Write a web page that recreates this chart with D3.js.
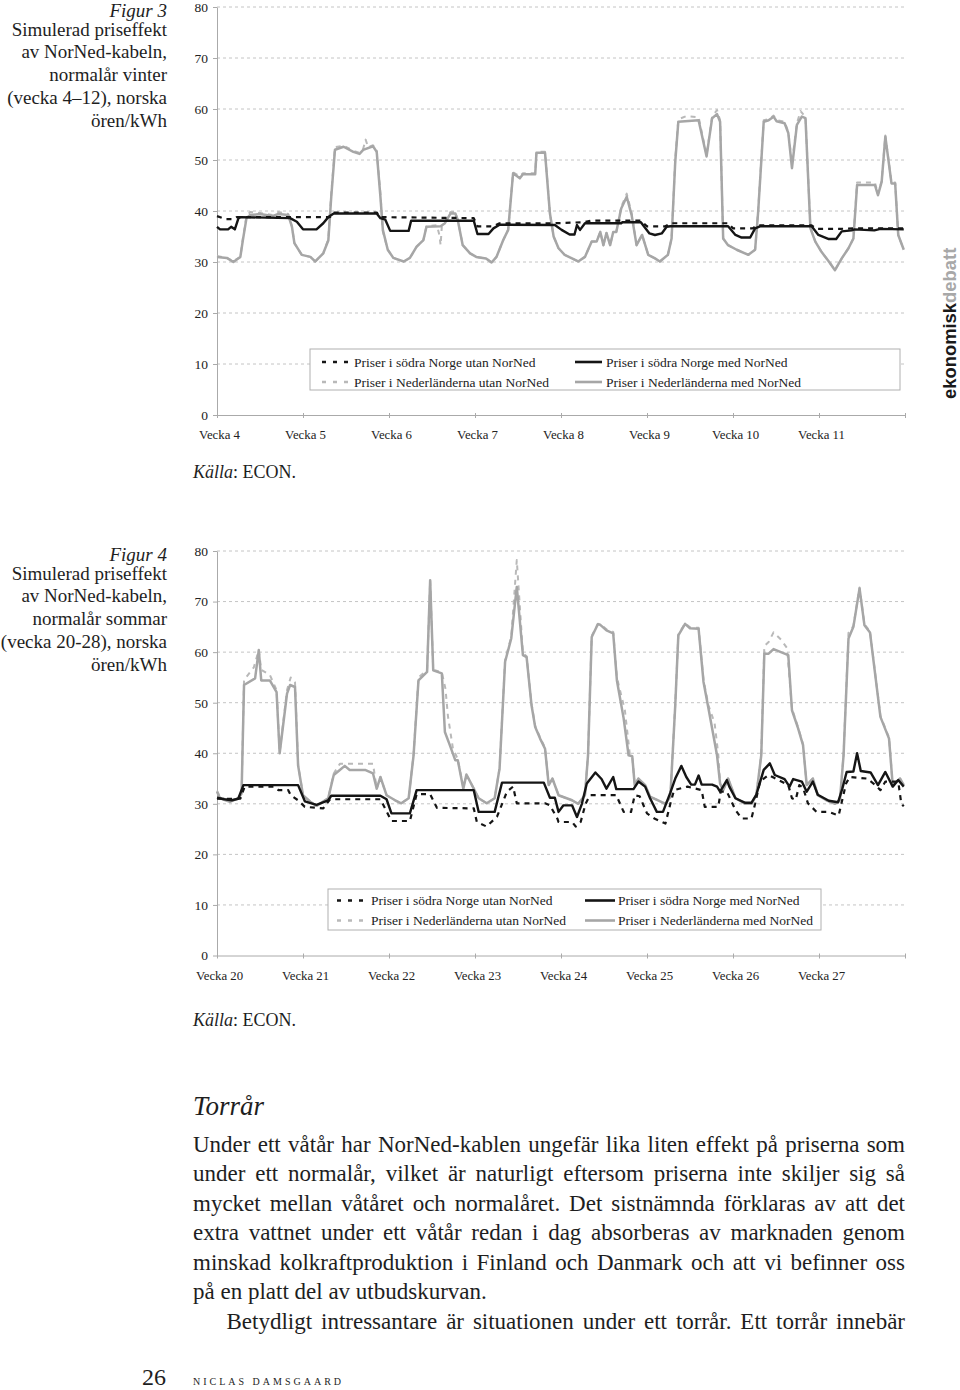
<!DOCTYPE html>
<html><head><meta charset="utf-8">
<script src="https://cdn.jsdelivr.net/npm/d3@7"></script>
<style>
html,body{margin:0;padding:0;background:#fff;}
svg{display:block;}
</style></head>
<body>
<svg id="page" width="960" height="1390"></svg>
<script>
// ---------------- DATA ----------------
const yTicks = [0,10,20,30,40,50,60,70,80];
const weekTicks = [0,7,14,21,28,35,42,49,56];
const weekLabels1 = ["Vecka 4","Vecka 5","Vecka 6","Vecka 7","Vecka 8","Vecka 9","Vecka 10","Vecka 11"];
const weekLabels2 = ["Vecka 20","Vecka 21","Vecka 22","Vecka 23","Vecka 24","Vecka 25","Vecka 26","Vecka 27"];
const legendLabels = ["Priser i södra Norge utan NorNed","Priser i södra Norge med NorNed","Priser i Nederländerna utan NorNed","Priser i Nederländerna med NorNed"];
const caption1 = ["Figur 3","Simulerad priseffekt","av NorNed-kabeln,","normalår vinter","(vecka 4–12), norska","ören/kWh"];
const caption2 = ["Figur 4","Simulerad priseffekt","av NorNed-kabeln,","normalår sommar","(vecka 20-28), norska","ören/kWh"];
const sourceText = ["Källa",": ECON."];
const headingText = "Torrår";
const bodyLines = [
 "Under ett våtår har NorNed-kablen ungefär lika liten effekt på priserna som",
 "under ett normalår, vilket är naturligt eftersom priserna inte skiljer sig så",
 "mycket mellan våtåret och normalåret. Det sistnämnda förklaras av att det",
 "extra vattnet under ett våtår redan i dag absorberas av marknaden genom",
 "minskad kolkraftproduktion i Finland och Danmark och att vi befinner oss",
 "på en platt del av utbudskurvan.",
 "Betydligt intressantare är situationen under ett torrår. Ett torrår innebär"
];
const pageNumber = "26";
const authorName = "NICLAS DAMSGAARD";
const logoParts = ["ekonomisk","debatt"];

// Figur 3 (winter) series: [day from start of Vecka 4, öre/kWh]
const winterNoWithout = [[0,39.0],[0.7,38.4],[1.3,38.4],[1.6,38.8],[9.2,38.8],[9.5,39.7],[13.0,39.7],[13.3,38.8],[20.9,38.6],[21.2,37.0],[22.5,37.0],[23.0,37.6],[27.5,37.6],[29.9,37.8],[30.4,38.1],[34.5,38.1],[35.0,37.0],[36.5,37.0],[36.9,37.6],[41.6,37.6],[42.0,36.6],[43.6,36.6],[44.0,37.2],[48.4,37.2],[48.8,36.5],[50.8,36.5],[51.8,36.6],[55.9,36.6]];
const winterNoWith = [[0,36.9],[0.25,36.4],[0.9,36.4],[1.15,36.9],[1.45,36.4],[1.75,38.6],[1.9,38.8],[5.95,38.6],[6.5,37.9],[7.0,36.4],[8.1,36.4],[8.65,37.6],[9.06,38.8],[9.5,39.5],[13.0,39.5],[13.3,38.6],[13.7,38.3],[14.1,36.1],[15.6,36.1],[15.8,38.1],[20.9,38.1],[21.2,35.5],[22.1,35.5],[22.5,36.6],[23.0,37.3],[27.5,37.25],[28.05,36.3],[28.7,35.4],[29.1,35.4],[29.3,37.25],[29.55,36.3],[29.95,37.6],[32.9,37.6],[33.0,37.8],[34.5,37.8],[35.2,35.6],[35.65,35.3],[36.2,35.6],[36.6,36.9],[36.9,37.0],[41.6,37.0],[42.2,35.3],[42.7,34.8],[43.4,34.8],[43.8,36.6],[44.2,37.0],[48.4,37.0],[48.95,35.3],[49.8,34.5],[50.4,34.5],[50.85,36.0],[51.65,36.2],[51.9,36.4],[53.5,36.2],[54.0,36.5],[55.9,36.4]];
const winterNlWithout = [[0,31.2],[0.8,30.8],[1.33,30.2],[1.9,31.0],[2.1,34.5],[2.4,39.0],[2.7,39.8],[3.5,39.6],[4.5,39.2],[5.0,39.8],[5.8,39.4],[6.1,37.0],[6.3,33.7],[6.9,31.4],[7.6,31.0],[8.0,30.1],[8.65,31.7],[9.06,34.5],[9.3,43.5],[9.6,52.5],[10.3,52.8],[11.1,51.8],[11.6,51.4],[11.9,52.2],[12.1,54.0],[12.3,52.5],[12.7,52.9],[13.0,51.8],[13.3,43.5],[13.5,36.0],[13.9,32.4],[14.35,30.8],[15.2,30.1],[15.7,30.8],[16.25,33.0],[16.8,34.3],[17.05,37.0],[17.9,37.2],[18.1,35.3],[18.2,33.3],[18.3,37.0],[18.55,37.8],[19.0,39.8],[19.4,39.8],[19.6,38.2],[20.0,33.3],[20.6,31.7],[21.1,31.0],[21.9,30.7],[22.35,29.9],[22.75,31.0],[23.3,34.3],[23.7,36.3],[24.1,47.6],[24.65,46.8],[24.9,47.4],[25.9,47.4],[26.0,51.6],[26.7,51.6],[27.1,39.5],[27.4,35.0],[27.8,32.7],[28.3,31.4],[29.4,30.1],[29.95,31.0],[30.5,34.0],[30.9,34.0],[31.2,35.9],[31.45,33.3],[31.7,35.7],[32.0,33.3],[32.25,35.9],[32.5,35.9],[32.9,40.8],[33.35,43.4],[33.75,39.6],[34.15,33.3],[34.6,35.3],[35.1,31.4],[35.65,30.7],[36.05,30.1],[36.7,31.4],[37.0,34.6],[37.3,50.2],[37.55,58.0],[38.2,58.6],[39.2,58.4],[39.85,51.0],[40.3,58.5],[40.7,59.8],[40.95,57.8],[41.2,34.6],[41.6,33.3],[42.3,32.4],[43.25,31.4],[43.8,32.4],[44.05,40.2],[44.5,57.8],[44.9,58.0],[45.3,58.7],[45.55,57.8],[46.2,57.5],[46.5,55.5],[46.8,49.5],[47.2,57.2],[47.5,59.6],[47.9,58.4],[48.3,36.8],[48.7,34.0],[49.2,32.0],[49.8,30.1],[50.3,28.4],[50.85,30.7],[51.4,32.7],[51.8,34.6],[52.1,45.6],[53.55,45.6],[53.8,43.3],[54.1,45.9],[54.4,54.8],[54.9,45.6],[55.2,45.6],[55.45,35.3],[55.9,32.4]];
const winterNlWith = [[0,31.0],[0.8,30.8],[1.33,30.0],[1.9,31.0],[2.1,34.2],[2.4,38.6],[2.7,39.2],[3.5,39.4],[4.5,39.0],[5.0,39.4],[5.8,39.2],[6.1,36.9],[6.3,33.7],[6.9,31.4],[7.6,31.0],[8.0,30.1],[8.65,31.7],[9.06,34.2],[9.3,42.8],[9.6,52.0],[10.3,52.6],[11.1,51.6],[11.6,51.2],[11.9,52.0],[12.7,52.7],[13.0,51.6],[13.3,42.8],[13.5,36.3],[13.9,32.4],[14.35,30.8],[15.2,30.1],[15.7,30.8],[16.25,33.0],[16.8,34.3],[17.05,36.9],[18.2,37.0],[18.55,37.6],[19.0,39.5],[19.4,39.5],[19.6,38.2],[20.0,33.3],[20.6,31.7],[21.1,31.0],[21.9,30.7],[22.35,29.9],[22.75,31.0],[23.3,34.3],[23.7,36.3],[24.1,47.4],[24.65,46.4],[24.9,47.2],[25.9,47.2],[26.0,51.4],[26.7,51.4],[27.1,39.5],[27.4,35.0],[27.8,32.7],[28.3,31.4],[29.4,30.1],[29.95,31.0],[30.5,34.0],[30.9,34.0],[31.2,35.9],[31.45,33.3],[31.7,35.7],[32.0,33.3],[32.25,35.9],[32.5,35.9],[32.9,40.5],[33.35,42.8],[33.75,39.2],[34.15,33.3],[34.6,35.3],[35.1,31.4],[35.65,30.7],[36.05,30.1],[36.7,31.4],[37.0,34.6],[37.3,49.7],[37.55,57.5],[39.2,57.8],[39.85,50.7],[40.3,58.2],[40.7,59.0],[40.95,57.5],[41.2,34.6],[41.6,33.3],[42.3,32.4],[43.25,31.4],[43.8,32.4],[44.05,39.9],[44.5,57.5],[44.9,57.8],[45.3,58.5],[45.55,57.6],[46.2,57.2],[46.5,55.3],[46.8,48.4],[47.2,56.9],[47.6,58.5],[47.9,58.2],[48.3,36.6],[48.7,34.0],[49.2,32.0],[49.8,30.1],[50.3,28.4],[50.85,30.7],[51.4,32.7],[51.8,34.6],[52.1,45.1],[53.55,45.1],[53.8,43.1],[54.1,45.7],[54.4,54.6],[54.9,45.4],[55.2,45.4],[55.45,35.3],[55.9,32.4]];

// Figur 4 (summer) series: [day from start of Vecka 20, öre/kWh]
const summerNoWithout = [[0,31.0],[1.9,31.0],[2.25,33.4],[4.6,33.4],[5.0,32.7],[5.8,32.7],[6.0,31.7],[6.6,30.7],[7.15,29.4],[8.65,29.1],[9.2,30.9],[13.3,30.9],[14.2,26.6],[15.7,26.6],[16.25,31.9],[17.35,31.9],[17.9,29.2],[20.9,29.1],[21.15,26.4],[21.95,25.5],[22.8,27.5],[23.6,32.4],[24.1,33.4],[24.4,30.1],[26.7,30.1],[27.1,29.7],[27.7,27.1],[27.8,26.4],[28.9,26.4],[29.2,25.5],[29.6,26.4],[30.0,30.0],[30.35,31.7],[32.5,31.7],[33.1,28.4],[33.7,28.4],[34.0,31.7],[34.4,31.5],[35.0,28.1],[35.6,27.1],[36.5,26.1],[36.9,30.0],[37.2,32.7],[38.3,33.4],[39.45,32.7],[39.7,29.4],[40.8,29.4],[41.0,32.4],[41.5,32.4],[42.2,28.8],[42.7,27.1],[43.5,27.1],[43.8,30.0],[44.2,34.4],[44.9,35.7],[45.3,35.2],[46.5,33.7],[46.8,31.1],[47.1,30.8],[47.4,33.7],[47.7,33.2],[48.1,30.1],[48.8,28.4],[49.8,28.4],[50.6,27.7],[51.2,34.0],[51.5,35.3],[52.9,35.0],[53.6,33.7],[54.0,32.7],[54.4,34.4],[55.45,34.4],[55.7,30.0],[55.9,29.5]];
const summerNoWith = [[0,31.2],[0.6,30.9],[1.2,30.7],[1.73,31.0],[2.15,33.7],[6.6,33.7],[7.15,30.5],[8.1,29.8],[9.05,30.7],[9.3,31.6],[13.3,31.6],[13.8,30.9],[14.2,28.1],[15.7,28.1],[16.25,32.7],[20.9,32.7],[21.3,28.4],[22.6,28.4],[23.2,34.2],[26.6,34.2],[27.1,31.2],[27.5,31.2],[27.8,28.4],[28.2,29.7],[28.9,29.7],[29.3,27.4],[29.7,30.0],[30.1,34.0],[30.8,36.2],[31.3,34.9],[31.7,33.0],[32.25,35.3],[32.5,32.9],[33.9,32.9],[34.3,34.4],[34.85,33.4],[35.25,31.1],[35.8,28.4],[36.3,28.4],[36.9,32.2],[37.3,35.0],[37.8,37.5],[38.2,35.3],[38.6,33.8],[38.9,33.8],[39.2,35.6],[39.45,33.8],[40.3,33.8],[40.7,33.4],[40.95,32.4],[41.5,34.7],[41.7,33.4],[42.2,31.1],[43.0,30.2],[43.5,30.2],[43.9,31.8],[44.5,36.7],[45.0,38.0],[45.4,35.7],[46.2,34.9],[46.6,33.4],[46.9,34.9],[47.6,34.4],[48.0,32.4],[48.5,34.4],[48.9,31.8],[49.8,30.6],[50.55,30.3],[50.9,33.0],[51.25,36.3],[51.8,36.4],[52.1,40.0],[52.4,36.5],[53.2,36.2],[53.8,33.7],[54.4,36.3],[55.0,33.4],[55.45,34.7],[55.9,33.4]];
const summerNlWithout = [[0,32.6],[0.25,31.3],[1.05,30.6],[1.73,31.1],[2.0,32.2],[2.2,54.5],[3.0,57.0],[3.4,60.4],[3.6,56.5],[4.3,55.5],[4.85,52.5],[5.1,40.2],[5.7,52.5],[6.0,55.0],[6.35,54.0],[6.6,37.8],[7.0,31.7],[7.6,30.4],[8.1,29.6],[9.05,31.1],[9.5,36.0],[10.0,37.9],[12.7,37.9],[13.0,33.0],[13.3,35.3],[13.8,31.7],[14.5,30.7],[15.0,30.1],[15.6,31.1],[16.0,39.8],[16.4,55.0],[17.1,56.5],[17.35,74.2],[17.6,56.5],[18.3,56.0],[18.6,52.7],[18.8,47.3],[19.2,41.0],[19.6,38.8],[20.05,33.2],[20.3,35.8],[20.9,33.0],[21.3,31.1],[21.95,30.1],[22.6,31.1],[23.0,37.0],[23.45,58.5],[23.95,63.0],[24.4,78.2],[24.9,59.8],[25.2,59.2],[25.6,49.8],[25.9,45.4],[26.3,43.1],[26.7,41.1],[27.0,33.9],[27.3,35.0],[27.8,31.7],[28.9,30.7],[29.4,30.0],[29.95,31.7],[30.2,39.8],[30.5,63.2],[31.0,65.6],[31.2,65.5],[31.7,64.5],[32.25,64.0],[32.55,55.0],[33.2,48.5],[33.6,39.8],[33.8,39.4],[34.0,33.7],[34.3,35.0],[34.85,33.7],[35.25,31.4],[35.9,30.7],[36.5,30.0],[36.9,31.4],[37.3,49.8],[37.55,63.5],[38.1,65.7],[38.5,64.9],[39.2,64.8],[39.6,54.5],[40.0,49.5],[40.5,46.0],[40.8,39.8],[40.95,34.0],[41.2,32.7],[41.6,35.0],[42.2,31.1],[43.0,30.0],[43.5,30.0],[43.9,31.7],[44.3,39.8],[44.55,61.2],[44.9,62.0],[45.3,63.9],[45.9,62.5],[46.4,60.8],[46.8,48.8],[47.3,45.1],[47.7,41.8],[48.0,33.7],[48.5,35.0],[48.9,31.7],[49.6,30.7],[50.3,30.0],[50.7,30.7],[51.0,39.8],[51.4,63.8],[51.8,65.2],[52.3,72.8],[52.7,65.5],[53.15,64.1],[54.0,47.4],[54.7,43.1],[55.0,33.7],[55.6,35.0],[55.9,33.7]];
const summerNlWith = [[0,32.4],[0.25,31.1],[1.05,30.4],[1.73,31.1],[2.0,32.0],[2.2,53.5],[3.1,54.8],[3.4,60.4],[3.6,54.4],[4.3,54.4],[4.85,52.1],[5.1,40.0],[5.7,51.8],[5.95,53.5],[6.35,53.1],[6.6,37.6],[7.0,31.7],[7.6,30.4],[8.1,29.6],[9.05,31.1],[9.5,35.7],[9.9,36.5],[10.4,37.5],[10.8,36.7],[12.05,36.7],[12.7,36.0],[13.0,33.0],[13.3,35.3],[13.8,31.7],[14.5,30.7],[15.0,30.1],[15.6,31.1],[16.0,39.6],[16.4,54.4],[17.1,56.1],[17.35,74.2],[17.6,56.4],[18.3,55.8],[18.55,44.2],[18.95,41.6],[19.4,38.6],[19.6,38.6],[20.05,33.0],[20.3,35.8],[20.9,33.0],[21.3,31.1],[21.95,30.1],[22.6,31.1],[23.0,37.0],[23.45,58.1],[23.95,62.7],[24.4,72.9],[24.9,59.4],[25.2,59.0],[25.6,49.5],[25.9,45.2],[26.3,42.9],[26.7,40.9],[27.0,33.7],[27.3,35.0],[27.8,31.7],[28.9,30.7],[29.4,30.0],[29.95,31.7],[30.2,39.6],[30.5,63.0],[31.0,65.5],[31.2,65.4],[31.7,64.3],[32.25,63.7],[32.55,54.4],[33.1,46.9],[33.5,39.6],[33.8,39.4],[34.0,33.7],[34.3,35.0],[34.85,33.7],[35.25,31.4],[35.9,30.7],[36.5,30.0],[36.9,31.4],[37.3,49.5],[37.55,63.3],[38.1,65.6],[38.5,64.7],[39.2,64.6],[39.6,54.1],[40.0,48.9],[40.4,43.6],[40.7,39.6],[40.95,34.0],[41.2,32.7],[41.6,35.0],[42.2,31.1],[43.0,30.0],[43.5,30.0],[43.9,31.7],[44.3,39.6],[44.55,59.7],[44.9,59.7],[45.3,60.6],[45.9,60.0],[46.5,59.4],[46.8,48.5],[47.3,44.9],[47.7,41.6],[48.0,33.7],[48.5,35.0],[48.9,31.7],[49.6,30.7],[50.3,30.0],[50.7,30.7],[51.0,39.6],[51.4,62.7],[51.8,65.0],[52.3,72.6],[52.7,65.3],[53.15,63.9],[54.0,47.2],[54.7,42.9],[55.0,33.7],[55.6,35.0],[55.9,33.7]];

// ---------------- DRAWING ----------------
const svg = d3.select("#page");
const SERIF = "'Liberation Serif','Times New Roman',serif";
const X0 = 217, X1 = 905;

const seriesStyles = [
  {color:"#b9b9b9", width:2.0, dash:"5,5"},   // NL utan
  {color:"#a6a6a6", width:2.5, dash:null},    // NL med
  {color:"#151515", width:2.2, dash:"5,5"},   // NO utan
  {color:"#151515", width:2.4, dash:null}     // NO med
];

function drawChart(cfg) {
  const g = svg.append("g");
  const x = d3.scaleLinear().domain([0,56]).range([X0,X1]);
  const y = d3.scaleLinear().domain([0,80]).range([cfg.yZero,cfg.yTop]);

  g.append("g").selectAll("line").data(yTicks.filter(v=>v>0)).join("line")
    .attr("x1",X0).attr("x2",X1).attr("y1",d=>y(d)).attr("y2",d=>y(d))
    .attr("stroke","#c4c4c4").attr("stroke-width",1).attr("stroke-dasharray","3,3");

  const ya = g.append("g").attr("transform",`translate(${X0},0)`)
    .call(d3.axisLeft(y).tickValues(yTicks).tickSizeInner(4).tickSizeOuter(0).tickPadding(5));
  ya.select(".domain").attr("stroke","#aaaaaa");
  ya.selectAll(".tick line").attr("stroke","#aaaaaa");
  ya.selectAll("text").attr("font-family",SERIF).attr("font-size",13.5).attr("fill","#222");

  const xa = g.append("g").attr("transform",`translate(0,${cfg.yZero})`)
    .call(d3.axisBottom(x).tickValues(weekTicks).tickSizeInner(3).tickSizeOuter(0).tickPadding(12)
      .tickFormat((d,i)=> cfg.labels[i] || ""));
  xa.select(".domain").attr("stroke","#aaaaaa");
  xa.selectAll(".tick line").attr("stroke","#aaaaaa").attr("y1",-2);
  xa.selectAll("text").attr("font-family",SERIF).attr("font-size",12.8).attr("fill","#222").attr("dx",2);

  const line = d3.line().x(d=>x(d[0])).y(d=>y(d[1]));
  cfg.series.forEach((s,i)=>{
    const st = seriesStyles[i];
    g.append("path").datum(s).attr("d",line).attr("fill","none")
      .attr("stroke",st.color).attr("stroke-width",st.width)
      .attr("stroke-linejoin","round")
      .attr("stroke-dasharray",st.dash);
  });

  const L = cfg.legend;
  const lg = g.append("g");
  lg.append("rect").attr("x",L.x).attr("y",L.y).attr("width",L.w).attr("height",L.h)
    .attr("fill","#fff").attr("stroke","#b0b0b0").attr("stroke-width",1);
  const items = [
    {lab:legendLabels[0], st:seriesStyles[2], col:0, row:0},
    {lab:legendLabels[1], st:seriesStyles[3], col:1, row:0},
    {lab:legendLabels[2], st:seriesStyles[0], col:0, row:1},
    {lab:legendLabels[3], st:seriesStyles[1], col:1, row:1}
  ];
  items.forEach(it=>{
    const c = L.cols[it.col];
    const ry = L.rows[it.row];
    lg.append("line").attr("x1",c.s0).attr("x2",c.s1).attr("y1",ry).attr("y2",ry)
      .attr("stroke",it.st.color).attr("stroke-width",2.6)
      .attr("stroke-dasharray",it.st.dash?"4,7":null);
    lg.append("text").attr("x",c.t).attr("y",ry+4.5).attr("font-family",SERIF)
      .attr("font-size",13.5).attr("fill","#222").text(it.lab);
  });

  const cap = g.append("text").attr("font-family",SERIF).attr("font-size",19)
    .attr("fill","#1e1e1e").attr("text-anchor","end");
  cfg.caption.forEach((t,i)=>{
    cap.append("tspan").attr("x",167).attr("y", i===0 ? cfg.yTop+10 : cfg.yTop+6+i*22.7)
      .attr("font-style", i===0 ? "italic" : null).text(t);
  });

  const src = g.append("text").attr("x",193).attr("y",cfg.srcY).attr("font-family",SERIF)
    .attr("font-size",18).attr("fill","#1e1e1e");
  src.append("tspan").attr("font-style","italic").text(sourceText[0]);
  src.append("tspan").text(sourceText[1]);
}

drawChart({
  yTop:7, yZero:415, labels:weekLabels1, caption:caption1, srcY:478,
  series:[winterNlWithout, winterNlWith, winterNoWithout, winterNoWith],
  legend:{x:310,y:349,w:590,h:41,rows:[362,382],
    cols:[{s0:322,s1:348,t:354},{s0:575,s1:602,t:606}]}
});
drawChart({
  yTop:551, yZero:955.5, labels:weekLabels2, caption:caption2, srcY:1026,
  series:[summerNlWithout, summerNlWith, summerNoWithout, summerNoWith],
  legend:{x:328,y:889,w:493,h:41,rows:[900.5,920.5],
    cols:[{s0:337,s1:365,t:371},{s0:585,s1:615,t:618}]}
});

// logo
const logo = svg.append("text").attr("transform","translate(956,399) rotate(-90)")
  .attr("font-family","'Liberation Sans',Arial,sans-serif").attr("font-weight","bold")
  .attr("font-size",18.4);
logo.append("tspan").attr("fill","#1a1a1a").text(logoParts[0]);
logo.append("tspan").attr("fill","#a8a8a8").text(logoParts[1]);

// body text
svg.append("text").attr("x",193).attr("y",1114.5).attr("font-family",SERIF)
  .attr("font-style","italic").attr("font-size",27).attr("fill","#1e1e1e").text(headingText);

const BODY_FS = 23;
function textLine(str, x0, x1, yb, justify) {
  const t = svg.append("text").attr("y",yb).attr("font-family",SERIF)
    .attr("font-size",BODY_FS).attr("fill","#1e1e1e");
  if (!justify) { t.attr("x",x0).text(str); return; }
  const words = str.split(" ");
  const widths = words.map(w=>{
    const tmp = t.append("tspan").text(w);
    const wd = tmp.node().getComputedTextLength();
    tmp.remove(); return wd;
  });
  const minGap = BODY_FS*0.2;
  let scale = 1;
  const total = d3.sum(widths);
  if (total + minGap*(words.length-1) > x1 - x0) {
    scale = (x1 - x0 - minGap*(words.length-1)) / total;
    t.attr("font-size", BODY_FS*scale);
  }
  const gap = (x1 - x0 - total*scale) / (words.length - 1);
  let xx = x0;
  words.forEach((w,i)=>{ t.append("tspan").attr("x",xx).text(w); xx += widths[i]*scale + gap; });
}
const baseY = 1151.7, lh = 29.55;
bodyLines.forEach((s,i)=>{
  const indent = (i === 6) ? 226.5 : 193;
  textLine(s, indent, 905, baseY + i*lh, i !== 5);
});

// footer
svg.append("text").attr("x",166).attr("y",1385).attr("text-anchor","end")
  .attr("font-family",SERIF).attr("font-size",24).attr("fill","#1e1e1e").text(pageNumber);
svg.append("text").attr("x",193).attr("y",1385).attr("font-family",SERIF)
  .attr("font-size",10).attr("letter-spacing",3).attr("fill","#1e1e1e").text(authorName);
</script>
</body></html>
